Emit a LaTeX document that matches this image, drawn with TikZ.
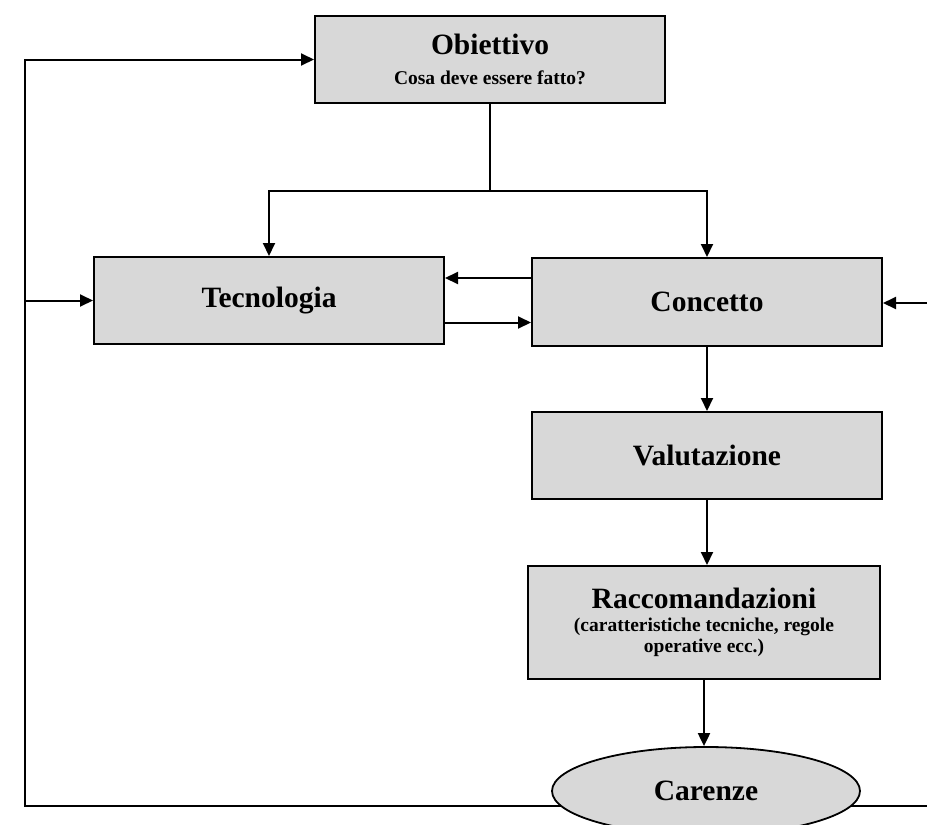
\documentclass[tikz,border=0pt]{standalone}
\usepackage{fontspec}
\setmainfont{Liberation Serif}
\usetikzlibrary{arrows.meta,shapes.geometric,calc,backgrounds}
\definecolor{boxgray}{RGB}{216,216,216}
\newcommand\ttl[1]{{\fontsize{29.5}{30}\selectfont #1}}
\begin{document}
\begin{tikzpicture}[x=1pt,y=-1pt,
  stepbox/.style={draw=black, line width=2pt, fill=boxgray, minimum width=350pt,
    minimum height=87pt, inner sep=0pt, align=center,
    font=\bfseries\fontsize{19.5}{21}\selectfont},
  ovalbox/.style={ellipse, draw=black, line width=1.8pt, fill=boxgray, minimum width=308pt,
    minimum height=88pt, inner sep=0pt, font=\bfseries},
  conn/.style={line width=2pt},
  arr/.style={conn, -{Triangle[length=13pt,width=12pt]}}]
\useasboundingbox (0,0) rectangle (927,825);
\clip (0,0) rectangle (927,825);

\node[stepbox] (obj) at (490,59.5) {\ttl{Obiettivo}\\[9pt]Cosa deve essere fatto?};
\node[stepbox] (tec) at (269,300.5) {\ttl{Tecnologia}};
\node[stepbox, minimum height=88pt] (con) at (707,302) {\ttl{Concetto}};
\node[stepbox] (val) at (707,455.5) {\ttl{Valutazione}};
\node[stepbox, minimum width=352pt, minimum height=113pt] (rac) at (704,622.5)
  {\ttl{Raccomandazioni}\\[2pt](caratteristiche tecniche, regole\\operative ecc.)};
\node[ovalbox] (car) at (706,791) {\ttl{Carenze}};

\coordinate (jy) at (0,191);
\coordinate (j) at (obj.south |- jy);
\draw[conn] (obj.south) -- (j);
\draw[arr] (j) -| (tec.north);
\draw[arr] (j) -| (con.north);

\coordinate (a1) at ($(con.west)+(0,-24)$);
\draw[arr] (a1) -- (a1 -| tec.east);
\coordinate (a2) at ($(tec.east)+(0,22)$);
\draw[arr] (a2) -- (a2 -| con.west);
\coordinate (rin) at (927,303);
\draw[arr] (rin) -- (rin -| con.east);

\draw[arr] (con.south) -- (con.south |- val.north);
\draw[arr] (val.south) -- (val.south |- rac.north);
\draw[arr] (rac.south) -- (rac.south |- car.north);

\coordinate (lx) at (25,0);
\coordinate (ly) at (0,806);
\coordinate (rx) at (927,0);
\begin{scope}[on background layer]
\fill[white] (0,0) rectangle (927,825);
\draw[arr] (car.center |- ly) -- (lx |- ly) -- (lx |- obj.west) -- (obj.west);
\draw[conn] (car.center |- ly) -- (rx |- ly);
\end{scope}
\draw[arr] (lx |- tec.west) -- (tec.west);
\end{tikzpicture}
\end{document}
